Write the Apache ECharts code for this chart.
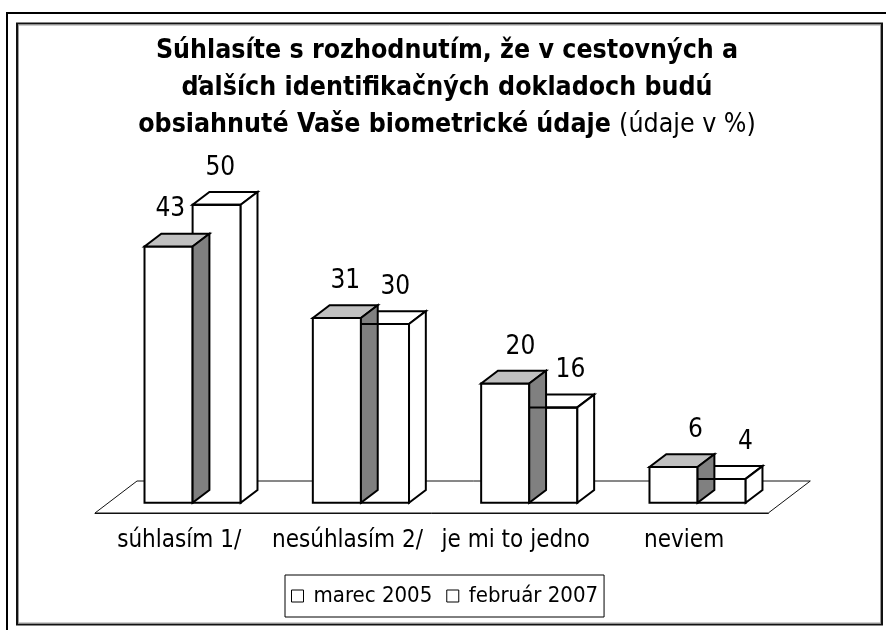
<!DOCTYPE html>
<html>
<head>
<meta charset="utf-8">
<script src="https://cdn.jsdelivr.net/npm/echarts@6/dist/echarts.min.js"></script>
<style>html,body{margin:0;padding:0;background:#fff;}#c{width:886px;height:630px;}</style>
</head>
<body>
<div id="c"></div>
<script>
// ---- data ----
const categories = ['súhlasím 1/', 'nesúhlasím 2/', 'je mi to jedno', 'neviem'];
const marec2005 = [43, 31, 20, 6];
const februar2007 = [50, 30, 16, 4];
const seriesNames = ['marec 2005', 'február 2007'];
const titleLines = ['Súhlasíte s rozhodnutím, že v cestovných a', 'ďalších identifikačných dokladoch budú', 'obsiahnuté Vaše biometrické údaje'];
const titleUnit = '(údaje v %)';

// ---- style constants ----
const FONT = '"DejaVu Sans Condensed", "Liberation Sans Narrow", "DejaVu Sans", sans-serif';
const FLOOR_DX = 42, FLOOR_DY = 32;      // floor depth in px
const FRONT_FRAC = 0.32, DEPTH_FRAC = 0.4; // bar position within floor depth
const GAP = 1.5;                         // gap width relative to bar width

function geom(api, seriesIdx) {
  const i = api.value(0), v = api.value(1);
  const base = api.coord([i, 0]);
  const top = api.coord([i, v]);
  const band = api.size([1, 0])[0];
  const bw = band / (2 + GAP);
  const ox = FRONT_FRAC * FLOOR_DX, oy = -FRONT_FRAC * FLOOR_DY;
  const dx = DEPTH_FRAC * FLOOR_DX, dy = -DEPTH_FRAC * FLOOR_DY;
  const x = base[0] + ox + (seriesIdx === 0 ? -bw : 0);
  return { v, x, bw, yb: base[1] + oy, yt: top[1] + oy, dx, dy };
}

function boxRenderer(seriesIdx, topColor, sideColor) {
  return function (params, api) {
    const g = geom(api, seriesIdx);
    const { x, bw, yb, yt, dx, dy } = g;
    const st = (fill) => ({ fill, stroke: '#000', lineWidth: 2, lineJoin: 'miter' });
    const cx = x + bw / 2;
    // slight perspective drift of the value labels to the right
    const labelX = cx + 0.04 * cx - 5;
    return {
      type: 'group',
      children: [
        { type: 'rect', shape: { x, y: yt, width: bw, height: yb - yt }, style: st('#fff') },
        { type: 'polygon', shape: { points: [[x, yt], [x + bw, yt], [x + bw + dx, yt + dy], [x + dx, yt + dy]] }, style: st(topColor) },
        { type: 'polygon', shape: { points: [[x + bw, yt], [x + bw + dx, yt + dy], [x + bw + dx, yb + dy], [x + bw, yb]] }, style: st(sideColor) },
        { type: 'text', style: { text: String(g.v), x: labelX, y: yt + dy - 24, align: 'center', verticalAlign: 'middle', fontSize: 26, fontFamily: FONT, fill: '#000' } }
      ]
    };
  };
}

const chart = echarts.init(document.getElementById('c'), null, { renderer: 'canvas' });
const option = {
  backgroundColor: '#fff',
  animation: false,
  graphic: [
    { type: 'rect', shape: { x: 7, y: 13, width: 900, height: 700 }, style: { fill: 'none', stroke: '#000', lineWidth: 2 } },
    { type: 'rect', shape: { x: 17, y: 23.5, width: 865, height: 601 }, style: { fill: 'none', stroke: '#111', lineWidth: 2 } },
    { type: 'rect', shape: { x: 18.5, y: 25, width: 862, height: 598 }, style: { fill: 'none', stroke: '#9a9a9a', lineWidth: 1 } },
    {
      type: 'text', x: 447, y: 33,
      style: {
        text: titleLines.join('\n') + ' {n|' + titleUnit + '}',
        align: 'center', verticalAlign: 'top',
        fontSize: 26.5, fontWeight: 'bold', fontFamily: FONT, fill: '#000', lineHeight: 37,
        rich: { n: { fontSize: 26.5, fontWeight: 'normal', fontFamily: FONT, fill: '#000', lineHeight: 37 } }
      }
    }
  ],
  legend: {
    data: seriesNames,
    left: 285, top: 575,
    orient: 'horizontal',
    icon: 'rect',
    itemWidth: 12, itemHeight: 12, itemGap: 14,
    borderColor: '#000', borderWidth: 1,
    padding: [10, 6, 10, 6],
    selectedMode: false,
    itemStyle: { color: '#fff', borderColor: '#000', borderWidth: 1 },
    textStyle: { fontSize: 22, fontFamily: FONT, color: '#000', padding: [0, 0, 0, 5] }
  },
  grid: { left: 95, right: 117.7, bottom: 117, top: 155.4, containLabel: false },
  xAxis: {
    type: 'category', data: categories, boundaryGap: true,
    axisLine: { lineStyle: { color: '#111', width: 1 } },
    axisTick: { length: 6, lineStyle: { color: '#111', width: 1 } },
    axisLabel: { margin: 16, fontSize: 24, fontFamily: FONT, color: '#000', interval: 0 },
    splitLine: { show: false }
  },
  yAxis: { type: 'value', min: 0, max: 60, show: false, splitLine: { show: false } },
  series: [
    {
      type: 'custom', name: 'floor', silent: true, z: 1,
      data: [[0, 0]],
      renderItem: function (params, api) {
        const band = api.size([1, 0])[0];
        const a = api.coord([0, 0]);
        const b = api.coord([categories.length - 1, 0]);
        const L = a[0] - band / 2, R = b[0] + band / 2, y0 = a[1];
        return { type: 'polygon', shape: { points: [[L, y0], [R, y0], [R + FLOOR_DX, y0 - FLOOR_DY], [L + FLOOR_DX, y0 - FLOOR_DY]] }, style: { fill: '#fff', stroke: '#111', lineWidth: 1 } };
      }
    },
    {
      type: 'custom', name: seriesNames[1], z: 2,
      itemStyle: { color: '#fff', borderColor: '#000' },
      data: februar2007.map((v, i) => [i, v]),
      renderItem: boxRenderer(1, '#fff', '#fff')
    },
    {
      type: 'custom', name: seriesNames[0], z: 3,
      itemStyle: { color: '#fff', borderColor: '#000' },
      data: marec2005.map((v, i) => [i, v]),
      renderItem: boxRenderer(0, '#c0c0c0', '#808080')
    },
    {
      type: 'custom', name: 'edge', z: 4, silent: true,
      data: februar2007.map((v, i) => [i, v]),
      renderItem: function (params, api) {
        const g = geom(api, 1);
        return { type: 'line', shape: { x1: g.x, y1: g.yt, x2: g.x + g.bw, y2: g.yt }, style: { stroke: '#000', lineWidth: 2 } };
      }
    }
  ]
};
chart.setOption(option);
</script>
</body>
</html>
